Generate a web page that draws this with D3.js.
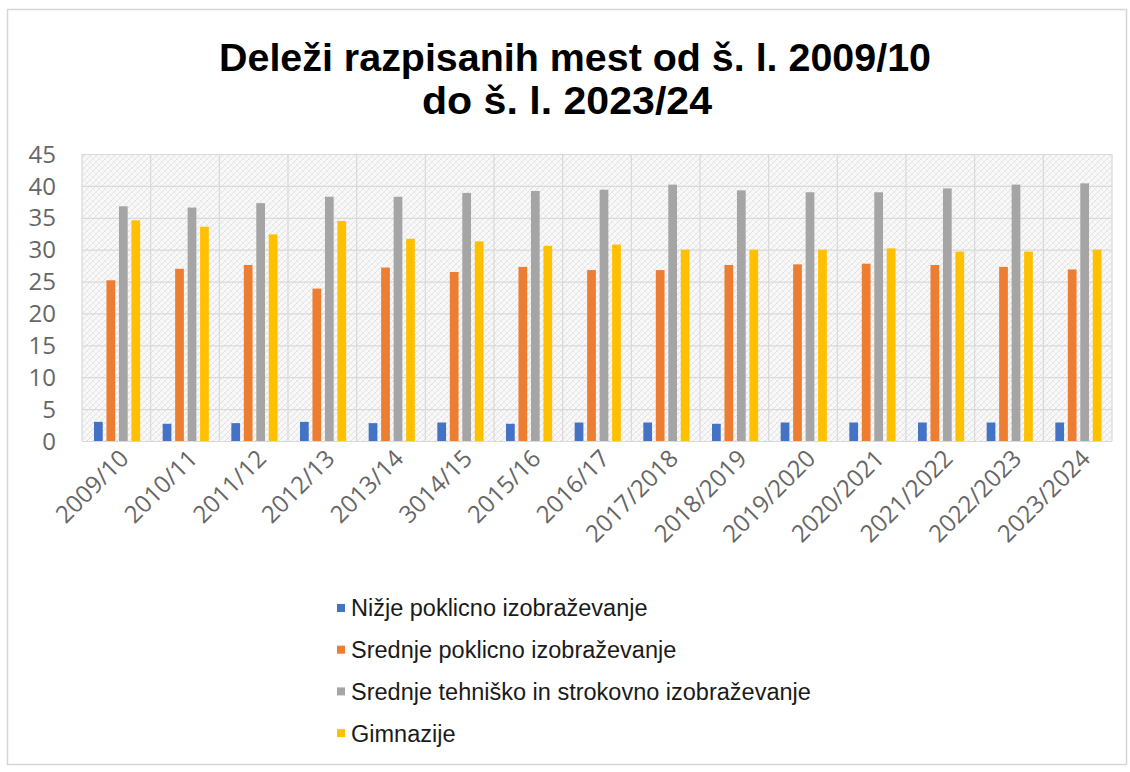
<!DOCTYPE html>
<html>
<head>
<meta charset="utf-8">
<script src="https://cdn.jsdelivr.net/npm/d3@7"></script>
<style>
  body { margin: 0; background: #fff; }
  svg { display: block; }
</style>
</head>
<body>
<div id="chart"></div>
<script>
// data
var years = ["2009/10", "2010/11", "2011/12", "2012/13", "2013/14", "3014/15", "2015/16", "2016/17",
             "2017/2018", "2018/2019", "2019/2020", "2020/2021", "2021/2022", "2022/2023", "2023/2024"];
var seriesNames = ["Nižje poklicno izobraževanje", "Srednje poklicno izobraževanje",
                   "Srednje tehniško in strokovno izobraževanje", "Gimnazije"];
var nizje     = [3.0, 2.7, 2.8, 3.0, 2.8, 2.9, 2.7, 2.9, 2.9, 2.7, 2.9, 2.9, 2.9, 2.9, 2.9];
var srednjePK = [25.2, 27.0, 27.6, 23.9, 27.2, 26.5, 27.3, 26.8, 26.8, 27.6, 27.7, 27.8, 27.6, 27.3, 26.9];
var tehnisko  = [36.8, 36.6, 37.3, 38.3, 38.3, 38.9, 39.2, 39.4, 40.2, 39.3, 39.0, 39.0, 39.6, 40.2, 40.4];
var gimnazije = [34.6, 33.6, 32.4, 34.5, 31.7, 31.3, 30.6, 30.8, 30.0, 30.0, 30.0, 30.2, 29.7, 29.7, 30.0];
var yTicks = [0, 5, 10, 15, 20, 25, 30, 35, 40, 45];
var colors = ["#4472C4", "#ED7D31", "#A5A5A5", "#FFC000"];

var allSeries = [nizje, srednjePK, tehnisko, gimnazije];

var W = 1130, H = 772;
var svg = d3.select("#chart").append("svg").attr("width", W).attr("height", H);

// outer chart border
svg.append("rect")
  .attr("x", 7.5).attr("y", 9.5).attr("width", 1119).attr("height", 755)
  .attr("fill", "#fff").attr("stroke", "#d6d6d6").attr("stroke-width", 1.5);

// title (narrow bold)
var title = [
  {t: "Deleži razpisanih mest od š. l. 2009/10", cx: 575, y: 71, w: 712},
  {t: "do š. l. 2023/24", cx: 567, y: 114, w: 290}
];
svg.selectAll("text.title").data(title).enter().append("text")
  .attr("class", "title")
  .attr("x", function (d) { return d.cx; })
  .attr("y", function (d) { return d.y; })
  .attr("text-anchor", "middle")
  .attr("textLength", function (d) { return d.w; })
  .attr("lengthAdjust", "spacingAndGlyphs")
  .style("font-family", "'Liberation Sans Narrow', 'Liberation Sans', Arial, sans-serif")
  .style("font-weight", "bold")
  .style("font-size", "38px")
  .style("fill", "#000")
  .text(function (d) { return d.t; });

var plotLeft = 82, plotRight = 1112, plotTop = 154, plotBottom = 441;

var x = d3.scaleBand().domain(years).range([plotLeft, plotRight]).padding(0);
var xs = d3.scaleBand().domain(d3.range(4)).range([12, x.bandwidth() - 10.5]).paddingInner(0.3);
var y = d3.scaleLinear().domain([0, 45]).range([plotBottom, plotTop]);

// hatched plot background
var defs = svg.append("defs");
var pat = defs.append("pattern").attr("id", "hatch")
  .attr("patternUnits", "userSpaceOnUse").attr("width", 6).attr("height", 6);
pat.append("rect").attr("width", 6).attr("height", 6).attr("fill", "#f8f8f8");
pat.append("path").attr("d", "M0,6 L6,0 M-1,1 L1,-1 M5,7 L7,5")
  .attr("stroke", "#e2e2e2").attr("stroke-width", 1);
pat.append("path").attr("d", "M0,0 L6,6 M-1,5 L1,7 M5,-1 L7,1")
  .attr("stroke", "#ececec").attr("stroke-width", 0.8);

svg.append("rect")
  .attr("x", plotLeft).attr("y", plotTop)
  .attr("width", plotRight - plotLeft).attr("height", plotBottom - plotTop)
  .attr("fill", "url(#hatch)");

// grid lines
svg.append("g").selectAll("line").data(yTicks).enter().append("line")
  .attr("x1", plotLeft).attr("x2", plotRight)
  .attr("y1", function (d) { return y(d) + 0.5; })
  .attr("y2", function (d) { return y(d) + 0.5; })
  .attr("stroke", "#d9d9d9").attr("stroke-width", 1.2);

svg.append("g").selectAll("line").data(years.concat(["end"])).enter().append("line")
  .attr("x1", function (d, i) { return i < years.length ? x(d) : plotRight; })
  .attr("x2", function (d, i) { return i < years.length ? x(d) : plotRight; })
  .attr("y1", plotTop).attr("y2", plotBottom)
  .attr("stroke", "#d9d9d9").attr("stroke-width", 1.2);

// bars
var groups = svg.append("g").selectAll("g").data(years).enter().append("g")
  .attr("transform", function (d) { return "translate(" + x(d) + ",0)"; });

groups.selectAll("rect")
  .data(function (d, i) { return allSeries.map(function (s, k) { return {k: k, v: s[i]}; }); })
  .enter().append("rect")
  .attr("x", function (d) { return xs(d.k); })
  .attr("width", xs.bandwidth())
  .attr("y", function (d) { return y(d.v); })
  .attr("height", function (d) { return plotBottom - y(d.v); })
  .attr("fill", function (d) { return colors[d.k]; });

// y axis labels
svg.append("g").selectAll("text").data(yTicks).enter().append("text")
  .attr("x", 56)
  .attr("y", function (d) { return y(d); })
  .attr("dy", "0.36em")
  .attr("text-anchor", "end")
  .style("font-family", "'Open Sans', sans-serif")
  .style("font-size", "24px")
  .style("fill", "#666")
  .text(function (d) { return d; });

// x axis labels, rotated
svg.append("g").selectAll("text").data(years).enter().append("text")
  .attr("transform", function (d) {
    return "translate(" + (x(d) + x.bandwidth() / 2 + 8) + "," + 454 + ") rotate(-45)";
  })
  .attr("text-anchor", "end")
  .attr("dy", "0.35em")
  .style("font-family", "'Open Sans', sans-serif")
  .style("font-size", "24px")
  .style("fill", "#666")
  .text(function (d) { return d; });

// legend
var legend = svg.append("g").selectAll("g").data(seriesNames).enter().append("g")
  .attr("transform", function (d, i) { return "translate(337," + (608 + i * 41.7) + ")"; });
legend.append("rect")
  .attr("x", 0).attr("y", -4).attr("width", 8).attr("height", 8)
  .attr("fill", function (d, i) { return colors[i]; });
legend.append("text")
  .attr("x", 14).attr("dy", "0.36em")
  .style("font-family", "'Liberation Sans', Arial, sans-serif")
  .style("font-size", "23.5px")
  .style("fill", "#1a1a1a")
  .text(function (d) { return d; });
</script>
</body>
</html>
